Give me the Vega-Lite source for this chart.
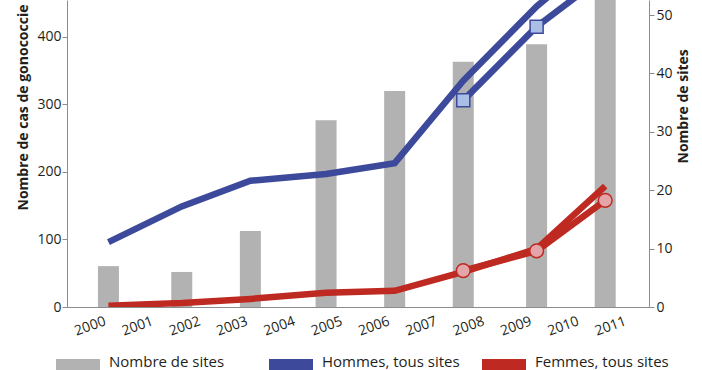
{
  "$schema": "https://vega.github.io/schema/vega-lite/v6.json",
  "width": 582,
  "height": 307,
  "autosize": {"type": "none"},
  "padding": {"left": 67, "top": 0, "right": 53, "bottom": 63},
  "background": "white",
  "config": {
    "view": {"stroke": null},
    "font": "Open Sans",
    "axis": {
      "grid": false,
      "domainColor": "#8c8c8c",
      "tickColor": "#8c8c8c",
      "labelColor": "#231f20",
      "titleColor": "#231f20",
      "labelFontSize": 14,
      "labelFont": "Open Sans",
      "titleFont": "Open Sans",
      "titleFontSize": 14,
      "titleFontWeight": "bold"
    }
  },
  "datasets": {
    "sites": [
      {"annee": 2000, "sites": 7},
      {"annee": 2001.55, "sites": 6},
      {"annee": 2003, "sites": 13},
      {"annee": 2004.6, "sites": 32},
      {"annee": 2006.05, "sites": 37},
      {"annee": 2007.5, "sites": 42},
      {"annee": 2009.05, "sites": 45},
      {"annee": 2010.5, "sites": 58}
    ],
    "cas": [
      {"annee": 2000, "serie": "Hommes, tous sites", "cas": 96},
      {"annee": 2001.55, "serie": "Hommes, tous sites", "cas": 149},
      {"annee": 2003, "serie": "Hommes, tous sites", "cas": 187},
      {"annee": 2004.6, "serie": "Hommes, tous sites", "cas": 197},
      {"annee": 2006.05, "serie": "Hommes, tous sites", "cas": 213},
      {"annee": 2007.5, "serie": "Hommes, tous sites", "cas": 335},
      {"annee": 2009.05, "serie": "Hommes, tous sites", "cas": 445},
      {"annee": 2010.5, "serie": "Hommes, tous sites", "cas": 530},
      {"annee": 2000, "serie": "Femmes, tous sites", "cas": 2},
      {"annee": 2001.55, "serie": "Femmes, tous sites", "cas": 6},
      {"annee": 2003, "serie": "Femmes, tous sites", "cas": 12},
      {"annee": 2004.6, "serie": "Femmes, tous sites", "cas": 21},
      {"annee": 2006.05, "serie": "Femmes, tous sites", "cas": 24},
      {"annee": 2007.5, "serie": "Femmes, tous sites", "cas": 52},
      {"annee": 2009.05, "serie": "Femmes, tous sites", "cas": 86},
      {"annee": 2010.5, "serie": "Femmes, tous sites", "cas": 179}
    ],
    "sous": [
      {"annee": 2007.5, "groupe": "Hommes", "cas": 306},
      {"annee": 2009.05, "groupe": "Hommes", "cas": 415},
      {"annee": 2010.5, "groupe": "Hommes", "cas": 492},
      {"annee": 2007.5, "groupe": "Femmes", "cas": 54},
      {"annee": 2009.05, "groupe": "Femmes", "cas": 83},
      {"annee": 2010.5, "groupe": "Femmes", "cas": 158}
    ]
  },
  "encoding": {
    "x": {
      "field": "annee",
      "type": "quantitative",
      "scale": {"domain": [1999.23, 2011.32], "nice": false, "zero": false},
      "axis": {
        "values": [2000, 2001, 2002, 2003, 2004, 2005, 2006, 2007, 2008, 2009, 2010, 2011],
        "format": "d",
        "labelAngle": -20,
        "ticks": false,
        "labelPadding": 7,
        "labelOffset": -6,
        "title": null
      }
    }
  },
  "layer": [
    {
      "data": {"name": "sites"},
      "mark": {"type": "bar", "width": 21, "clip": true},
      "encoding": {
        "y": {
          "field": "sites",
          "type": "quantitative",
          "scale": {"domain": [0, 52.57], "nice": false},
          "axis": {
            "orient": "right",
            "values": [0, 10, 20, 30, 40, 50],
            "tickSize": 5,
            "labelPadding": 2,
            "title": "Nombre de sites",
            "titleAngle": -90,
            "titleX": 38.5,
            "titleY": 163,
            "titleAlign": "left",
            "titleBaseline": "alphabetic"
          }
        },
        "color": {
          "datum": "Nombre de sites",
          "type": "nominal",
          "scale": {
            "domain": ["Nombre de sites", "Hommes, tous sites", "Femmes, tous sites"],
            "range": ["#b2b2b2", "#3d4a9b", "#be2a22"]
          },
          "legend": {
            "orient": "none",
            "legendX": -11,
            "legendY": 345,
            "direction": "horizontal",
            "columns": 3,
            "gridAlign": "all",
            "columnPadding": 22,
            "title": null,
            "symbolType": "M-1,-0.36H1V0.36H-1Z",
            "symbolSize": 1936,
            "symbolStrokeWidth": 0,
            "symbolOpacity": 1,
            "labelFontSize": 15,
            "labelFont": "Open Sans",
            "labelColor": "#231f20",
            "labelOffset": 9,
            "labelBaseline": "alphabetic",
            "labelLimit": 300,
            "encode": {
              "symbols": {
                "update": {
                  "fill": {"scale": "color", "field": "value"},
                  "stroke": {"value": "transparent"},
                  "opacity": {"value": 1}
                }
              }
            }
          }
        }
      }
    },
    {
      "layer": [
        {
          "data": {"name": "cas"},
          "mark": {"type": "line", "strokeWidth": 6.5, "clip": true, "strokeJoin": "miter"},
          "encoding": {
            "y": {
              "field": "cas",
              "type": "quantitative",
              "scale": {"domain": [0, 454.6], "nice": false},
              "axis": {
                "orient": "left",
                "values": [0, 100, 200, 300, 400],
                "tickSize": 5,
                "labelPadding": 1,
                "title": "Nombre de cas de gonococcie",
                "titleX": -40,
                "titleY": 210,
                "titleAlign": "left",
                "titleBaseline": "alphabetic"
              }
            },
            "color": {"field": "serie", "type": "nominal", "legend": null},
            "detail": {"field": "serie"}
          }
        },
        {
          "data": {"name": "sous"},
          "transform": [{"filter": "datum.groupe === 'Hommes'"}],
          "mark": {"type": "line", "strokeWidth": 6.5, "clip": true, "color": "#3d4a9b"},
          "encoding": {"y": {"field": "cas", "type": "quantitative"}}
        },
        {
          "data": {"name": "sous"},
          "transform": [{"filter": "datum.groupe === 'Femmes'"}],
          "mark": {"type": "line", "strokeWidth": 6.5, "clip": true, "color": "#be2a22"},
          "encoding": {"y": {"field": "cas", "type": "quantitative"}}
        },
        {
          "data": {"name": "sous"},
          "transform": [{"filter": "datum.groupe === 'Hommes'"}],
          "mark": {"type": "point", "shape": "square", "size": 170, "filled": true, "fill": "#a9bfe6", "stroke": "#3d4a9b", "strokeWidth": 1.5, "opacity": 1, "clip": true},
          "encoding": {"y": {"field": "cas", "type": "quantitative"}}
        },
        {
          "data": {"name": "sous"},
          "transform": [{"filter": "datum.groupe === 'Femmes'"}],
          "mark": {"type": "point", "shape": "circle", "size": 190, "filled": true, "fill": "#e3a5a8", "stroke": "#be2a22", "strokeWidth": 1.5, "opacity": 1, "clip": true},
          "encoding": {"y": {"field": "cas", "type": "quantitative"}}
        }
      ]
    }
  ],
  "resolve": {"scale": {"y": "independent"}}
}
